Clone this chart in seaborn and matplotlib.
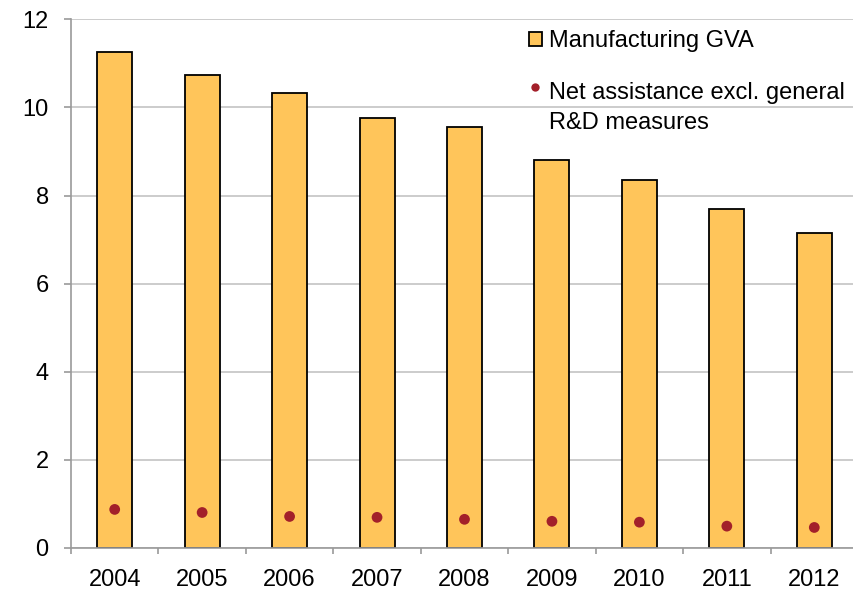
import numpy as np
import pandas as pd
import matplotlib
matplotlib.use("Agg")
import matplotlib.pyplot as plt
from matplotlib.patches import Patch
from matplotlib.lines import Line2D
from matplotlib.legend_handler import HandlerLine2D
import seaborn as sns

years = ["2004", "2005", "2006", "2007", "2008", "2009", "2010", "2011", "2012"]
manufacturing_gva = [11.26, 10.74, 10.32, 9.75, 9.56, 8.81, 8.36, 7.69, 7.15]
net_assistance = [0.87, 0.80, 0.71, 0.69, 0.645, 0.60, 0.58, 0.49, 0.46]
y_ticks = [0, 2, 4, 6, 8, 10, 12]

bar_color = "#FFC55A"
dot_color = "#A3202A"
grid_color = "#C4C4C4"
axis_color = "#9A9A9A"

sns.set_theme(style="white")
plt.rcParams["font.family"] = ["Liberation Sans", "DejaVu Sans"]
plt.rcParams["text.color"] = "black"

df = pd.DataFrame({"year": years, "gva": manufacturing_gva, "assist": net_assistance})

fig = plt.figure(figsize=(8.54, 5.89), dpi=100)
ax = fig.add_axes([0.0831, 0.0701, 0.9216, 0.8969])

ax.set_axisbelow(True)
ax.yaxis.grid(True, color=grid_color, linewidth=1.2)

sns.barplot(data=df, x="year", y="gva", color=bar_color, edgecolor="black",
            linewidth=1.3, width=0.4, saturation=1, ax=ax)
sns.scatterplot(data=df, x="year", y="assist", color=dot_color, s=60,
                edgecolor="none", ax=ax, zorder=5)

ax.set_ylim(0, 12)
ax.set_xlim(-0.5, len(years) - 0.5)
ax.set_yticks(y_ticks)
ax.set_yticklabels([str(t) for t in y_ticks])
ax.set_xlabel("")
ax.set_ylabel("")

for side in ["top", "right"]:
    ax.spines[side].set_visible(False)
for side in ["left", "bottom"]:
    ax.spines[side].set_color(axis_color)
    ax.spines[side].set_linewidth(1.2)

ax.tick_params(axis="y", which="major", left=True, length=5, width=1.2,
               color=axis_color, pad=11, labelsize=17, labelcolor="black")
ax.tick_params(axis="x", which="major", bottom=False, length=0, pad=15,
               labelsize=17, labelcolor="black")
ax.set_xticks(np.arange(-0.5, len(years), 1.0), minor=True)
ax.tick_params(axis="x", which="minor", bottom=True, length=4, width=1.2,
               color=axis_color)


class RaisedMarkerHandler(HandlerLine2D):
    """Places the marker beside the first line of a two-line label."""
    def __init__(self, shift, **kw):
        super().__init__(**kw)
        self.shift = shift

    def create_artists(self, legend, orig_handle, xdescent, ydescent,
                       width, height, fontsize, trans):
        artists = super().create_artists(legend, orig_handle, xdescent, ydescent,
                                         width, height, fontsize, trans)
        for a in artists:
            a.set_ydata(np.asarray(a.get_ydata()) + self.shift)
        return artists


gva_handle = Patch(facecolor=bar_color, edgecolor="black", linewidth=1.3)
dot_handle = Line2D([], [], linestyle="none", marker="o", markersize=6,
                    markerfacecolor=dot_color, markeredgecolor="none")

leg = ax.legend([gva_handle, dot_handle],
                ["Manufacturing GVA", "Net assistance excl. general\nR&D measures"],
                handler_map={dot_handle: RaisedMarkerHandler(shift=16.0, numpoints=1)},
                loc="upper left", bbox_to_anchor=(529 / 854, 1 - 30 / 589),
                bbox_transform=fig.transFigure, frameon=False, fontsize=17,
                handlelength=0.55, handleheight=0.55, handletextpad=0.3,
                labelspacing=1.28, borderpad=0, borderaxespad=0)
for t in leg.get_texts():
    t.set_linespacing(1.45)
    t.set_color("black")

fig.savefig("out.png", dpi=100)
